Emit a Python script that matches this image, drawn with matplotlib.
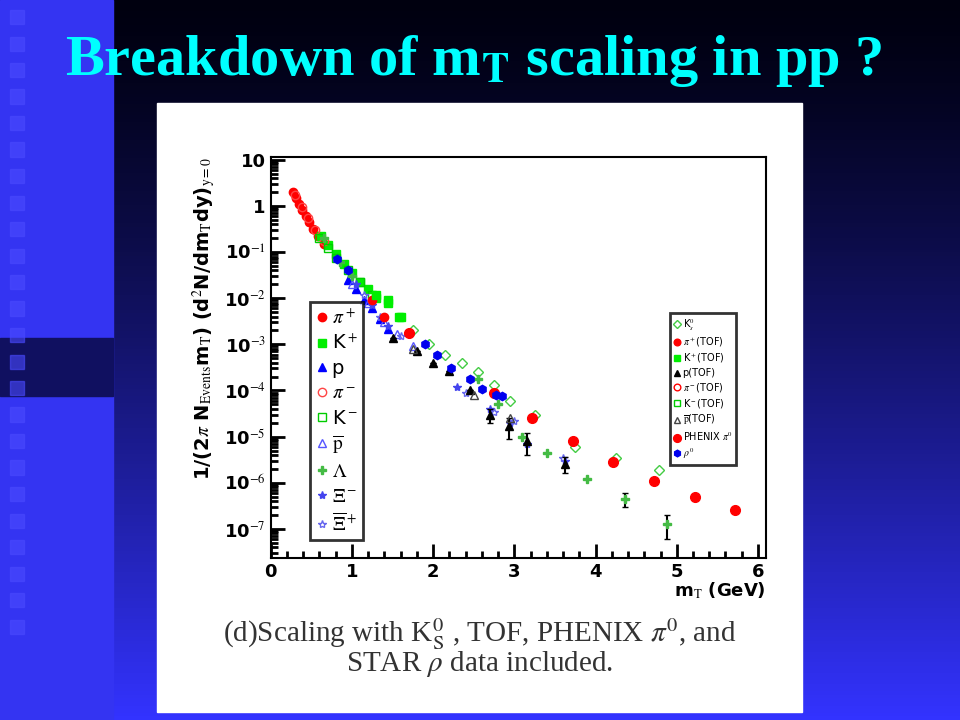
import matplotlib

matplotlib.use("Agg")
import matplotlib.pyplot as plt
import numpy as np
from matplotlib.patches import Rectangle
from matplotlib.ticker import FixedLocator, LogLocator, NullFormatter

plt.rcParams["mathtext.fontset"] = "stix"

# --- data ---
pip_x = [0.27, 0.31, 0.35, 0.39, 0.43, 0.47, 0.52, 0.58, 0.66]
pip_y = [2.0, 1.5, 1.1, 0.8, 0.6, 0.45, 0.32, 0.22, 0.15]
kp_x = [0.62, 0.7, 0.8, 0.9, 1.0, 1.1, 1.2, 1.3, 1.45, 1.6]
kp_y = [0.22, 0.14, 0.09, 0.055, 0.035, 0.022, 0.016, 0.01, 0.008, 0.004]
p_x = [0.95, 1.05, 1.15, 1.25, 1.35, 1.45]
p_y = [0.025, 0.016, 0.009, 0.006, 0.0035, 0.0022]
pim_x = [0.3, 0.38, 0.46, 0.55, 0.65]
pim_y = [1.7, 0.95, 0.55, 0.3, 0.17]
km_x = [0.6, 0.7, 0.8, 0.95, 1.1, 1.25]
km_y = [0.2, 0.12, 0.075, 0.04, 0.022, 0.012]
pbar_x = [1.0, 1.2, 1.4, 1.55, 1.75]
pbar_y = [0.02, 0.008, 0.003, 0.0017, 0.0009]
lam_x = [0.65, 0.85, 1.0, 2.55, 2.8, 3.1, 3.4, 3.9, 4.36, 4.88]
lam_y = [0.2, 0.06, 0.03, 1.8e-4, 5e-5, 1e-5, 4.5e-6, 1.2e-6, 4.5e-7, 1.3e-7]
lam_err = [0, 0, 0, 0, 0, 0, 0, 0, 1.5e-7, 7e-8]
xim_x = [1.05, 1.25, 1.45, 2.3, 2.7, 2.95, 3.15, 3.62]
xim_y = [0.02, 0.007, 0.0025, 1.2e-4, 4e-5, 2e-5, 7e-6, 3e-6]
xip_x = [1.15, 1.35, 1.6, 2.4, 2.75, 3.0, 3.6]
xip_y = [0.012, 0.004, 0.0015, 9e-5, 3.5e-5, 2.2e-5, 3.5e-6]
k0s_x = [1.75, 1.95, 2.15, 2.35, 2.55, 2.75, 2.95, 3.25, 3.75, 4.25, 4.78]
k0s_y = [0.002, 1e-3, 6e-4, 4e-4, 2.5e-4, 1.3e-4, 6e-5, 3e-5, 6e-6, 3.5e-6, 1.9e-6]
pitof_x = [1.25, 1.4, 1.7]
pitof_y = [0.009, 0.004, 0.0018]
ktof_x = [1.3, 1.45, 1.58]
ktof_y = [0.012, 0.009, 0.004]
ptof_x = [1.5, 1.8, 2.0, 2.2, 2.45, 2.7, 2.93, 3.15, 3.63]
ptof_y = [1.4e-3, 7e-4, 4e-4, 2.6e-4, 1e-4, 3e-5, 1.7e-5, 8e-6, 2.6e-6]
ptof_err = [0, 0, 0, 0, 0, 1e-5, 8e-6, 4e-6, 1e-6]
pbartof_x = [1.75, 2.5, 2.95]
pbartof_y = [8e-4, 8e-5, 2.5e-5]
phenix_x = [1.7, 2.75, 3.22, 3.72, 4.22, 4.72, 5.22, 5.72]
phenix_y = [0.0018, 9e-5, 2.5e-5, 8e-6, 2.8e-6, 1.1e-6, 5e-7, 2.6e-7]
rho_x = [0.82, 0.95, 1.9, 2.05, 2.22, 2.45, 2.6, 2.78, 2.85]
rho_y = [0.07, 0.04, 1e-3, 6e-4, 3e-4, 1.8e-4, 1.1e-4, 8e-5, 7.5e-5]

fig = plt.figure(figsize=(9.6, 7.2), dpi=100)

# slide background
bg = fig.add_axes([0, 0, 1, 1])
bg.set_axis_off()
grad = np.linspace(0, 1, 200)[:, None] ** 1.3
top = np.array([0.0, 0.0, 0.06])
bot = np.array([0.2, 0.2, 1.0])
img = top + (bot - top) * grad[..., None]
bg.imshow(img, extent=[0, 1, 0, 1], origin="upper", aspect="auto")
bg.add_patch(Rectangle((0, 0), 0.118, 1, color="#3434f2"))
bg.add_patch(Rectangle((0, 0.45), 0.118, 0.08, color="#101060"))
for i in range(24):
    y = 1 - (10 + i * 26.5) / 720
    bg.add_patch(Rectangle((0.01, y - 0.02), 0.015, 0.02, color="#4a4aff", alpha=0.6))
bg.set_xlim(0, 1), bg.set_ylim(0, 1)

fig.text(0.068, 0.915, r"Breakdown of m$_{\mathbf{T}}$ scaling in pp ?",
         color="#00ffff", fontsize=42, fontweight="bold",
         family="Liberation Serif", va="center")

# white image panel
bg.add_patch(Rectangle((0.1635, 0.011), 0.672, 0.846, color="white"))
fig.text(0.5, 0.108, r"(d)Scaling with K$^0_\mathrm{S}$ , TOF, PHENIX $\pi^0$, and",
         ha="center", fontsize=21, family="Liberation Serif", color="#333333")
fig.text(0.5, 0.068, r"STAR $\rho$ data included.",
         ha="center", fontsize=21, family="Liberation Serif", color="#333333")

ax = fig.add_axes([0.282, 0.225, 0.516, 0.557])
ax.set_yscale("log")
ax.set_xlim(0, 6.1)
ax.set_ylim(10 ** -7.63, 10 ** 1.06)

ms = dict(markersize=6, linestyle="none")
h = {}
h["pip"], = ax.plot(pip_x, pip_y, "o", color="red", **ms)
h["kp"], = ax.plot(kp_x, kp_y, "s", color="#00ee00", **ms)
h["p"], = ax.plot(p_x, p_y, "^", color="#0000ff", **ms)
h["pim"], = ax.plot(pim_x, pim_y, "o", mfc="none", color="#ff4444", **ms)
h["km"], = ax.plot(km_x, km_y, "s", mfc="none", color="#00cc00", **ms)
h["pbar"], = ax.plot(pbar_x, pbar_y, "^", mfc="none", color="#5555ff", **ms)
ax.errorbar(lam_x, lam_y, yerr=lam_err, fmt="none", ecolor="black", capsize=2)
h["lam"], = ax.plot(lam_x, lam_y, "P", color="#44bb44", **ms)
h["xim"], = ax.plot(xim_x, xim_y, "*", color="#4444ee", **ms)
h["xip"], = ax.plot(xip_x, xip_y, "*", mfc="none", color="#6666ee", **ms)
h["k0s"], = ax.plot(k0s_x, k0s_y, "D", mfc="none", color="#44cc44", markersize=5,
                    linestyle="none")
h["pitof"], = ax.plot(pitof_x, pitof_y, "o", color="red", **ms)
h["ktof"], = ax.plot(ktof_x, ktof_y, "s", color="#00ee00", **ms)
ax.errorbar(ptof_x, ptof_y, yerr=ptof_err, fmt="none", ecolor="black", capsize=2)
h["ptof"], = ax.plot(ptof_x, ptof_y, "^", color="black", **ms)
h["pimtof"], = ax.plot([], [], "o", mfc="none", color="red", **ms)
h["kmtof"], = ax.plot([], [], "s", mfc="none", color="#00cc00", **ms)
h["pbartof"], = ax.plot(pbartof_x, pbartof_y, "^", mfc="none", color="#444444", **ms)
h["phenix"], = ax.plot(phenix_x, phenix_y, "o", color="red", markersize=7,
                       linestyle="none")
h["rho"], = ax.plot(rho_x, rho_y, "h", color="#0000ee", **ms)

leg1 = ax.legend([h[k] for k in ["pip", "kp", "p", "pim", "km", "pbar", "lam", "xim", "xip"]],
                 [r"$\pi^+$", r"K$^+$", "p", r"$\pi^-$", r"K$^-$", r"$\overline{\mathrm{p}}$",
                  r"$\Lambda$", r"$\Xi^-$", r"$\overline{\Xi}^+$"],
                 loc="lower left", bbox_to_anchor=(0.06, 0.02), fontsize=14,
                 frameon=True, fancybox=False, edgecolor="black",
                 handlelength=0.6, handletextpad=0.2, labelspacing=0.3,
                 borderpad=0.3, markerscale=1.0)
leg1.get_frame().set_linewidth(2)
ax.add_artist(leg1)
leg2 = ax.legend([h[k] for k in ["k0s", "pitof", "ktof", "ptof", "pimtof", "kmtof",
                                 "pbartof", "phenix", "rho"]],
                 [r"K$^0_s$", r"$\pi^+$(TOF)", r"K$^+$(TOF)", "p(TOF)", r"$\pi^-$(TOF)",
                  r"K$^-$(TOF)", r"$\overline{\mathrm{p}}$(TOF)", r"PHENIX $\pi^0$",
                  r"$\rho^0$"],
                 loc="upper right", bbox_to_anchor=(0.95, 0.623), fontsize=7,
                 frameon=True, fancybox=False, edgecolor="black",
                 handlelength=0.6, handletextpad=0.3, labelspacing=0.3,
                 borderpad=0.4, markerscale=0.8)
leg2.get_frame().set_linewidth(2)

ax.yaxis.set_major_locator(FixedLocator([10.0 ** k for k in range(-7, 2)]))
ax.set_yticklabels(["10$^{-7}$", "10$^{-6}$", "10$^{-5}$", "10$^{-4}$", "10$^{-3}$",
                    "10$^{-2}$", "10$^{-1}$", "1", "10"])
ax.yaxis.set_minor_locator(LogLocator(base=10, subs=np.arange(2, 10)))
ax.yaxis.set_minor_formatter(NullFormatter())
ax.set_xticks(range(7))
ax.set_xticks(np.arange(0, 6.1, 0.2), minor=True)
ax.tick_params(which="both", direction="in", width=2)
ax.tick_params(axis="y", which="major", length=10, labelsize=13)
ax.tick_params(axis="y", which="minor", length=5)
ax.tick_params(axis="x", which="major", length=10, labelsize=13)
ax.tick_params(axis="x", which="minor", length=5)
for lab in ax.get_xticklabels() + ax.get_yticklabels():
    lab.set_fontweight("bold")
for s in ax.spines.values():
    s.set_linewidth(1.5)
ax.set_xlabel(r"m$_\mathrm{T}$ (GeV)", fontsize=13, fontweight="bold", loc="right",
              labelpad=0)
ax.set_ylabel(r"1/(2$\pi$ N$_{\mathrm{Events}}$m$_\mathrm{T}$) (d$^2$N/dm$_\mathrm{T}$dy)$_{\mathrm{y=0}}$",
              fontsize=14, fontweight="bold", loc="top")

fig.savefig("out.png", dpi=100)
